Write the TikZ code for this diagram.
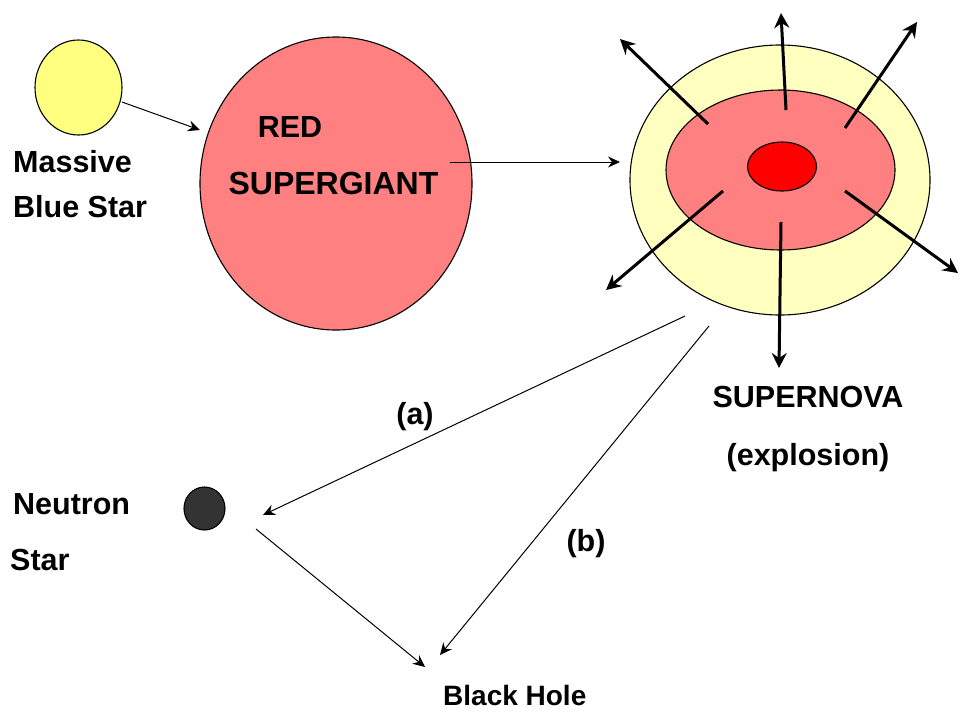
\documentclass[tikz,border=0pt]{standalone}
\usepackage{fontspec}
\setmainfont{Liberation Sans}
\usetikzlibrary{shapes.geometric,arrows.meta}
\definecolor{starYellow}{HTML}{FFFF80}
\definecolor{giantRed}{HTML}{FF8080}
\definecolor{shellYellow}{HTML}{FFFFC0}
\definecolor{coreRed}{HTML}{FF0000}
\definecolor{nsGray}{HTML}{333333}
\tikzset{
  body/.style={ellipse, draw=black, line width=1.1pt, inner sep=0pt},
  lbl/.style={font=\fontsize{30.5}{36}\selectfont\bfseries, inner sep=0pt},
  thinarrow/.style={line width=1pt, -{Stealth[length=12pt,width=11pt,inset=4pt]}},
  blastarrow/.style={line width=3pt, -{Stealth[length=15pt,width=15pt,inset=5pt]}}
}
\begin{document}
\begin{tikzpicture}[x=1pt,y=-1pt]
\useasboundingbox (0,0) rectangle (960,713);
% bodies
\node[body, fill=starYellow, minimum width=87pt, minimum height=95pt] (blue) at (78.5,87.5) {};
\node[body, fill=giantRed, minimum width=272pt, minimum height=293pt] (giant) at (336,183.5) {};
\node[body, fill=shellYellow, minimum width=300pt, minimum height=270pt] (snout) at (780,180) {};
\node[body, fill=giantRed, minimum width=229pt, minimum height=160pt] (snmid) at (780.5,170) {};
\node[body, fill=coreRed, minimum width=69pt, minimum height=49pt] (sncore) at (782,166.5) {};
\node[body, fill=nsGray, minimum width=41pt, minimum height=43pt] (ns) at (204.5,508.5) {};
% labels
\node[lbl, anchor=base west] (tMassive) at (13,172) {Massive};
\node[lbl, anchor=base west] (tBlue) at (13,217) {Blue Star};
\node[lbl, anchor=base] (tRed) at (290,137) {RED};
\node[lbl, anchor=base, font=\fontsize{32}{36}\selectfont\bfseries] (tSuper) at (333.5,194) {SUPERGIANT};
\node[lbl, anchor=base] (tSN) at (808,407) {SUPERNOVA};
\node[lbl, anchor=base] (tExp) at (808,465) {(explosion)};
\node[lbl, anchor=base west] (tNeutron) at (13,514) {Neutron};
\node[lbl, anchor=base west] (tStar) at (10,570) {Star};
\node[lbl, anchor=base] (ta) at (415,424) {(a)};
\node[lbl, anchor=base] (tb) at (586,551) {(b)};
\node[lbl, anchor=base west, font=\fontsize{28}{32}\selectfont\bfseries] (tBH) at (443,705) {Black Hole};
% connector end points
\coordinate (bOut) at (122,102);
\coordinate (gIn) at (200,130);
\coordinate (gOut) at (450,162);
\coordinate (snIn) at (620,162);
\coordinate (aStart) at (685,316);
\coordinate (aEnd) at (263,515);
\coordinate (bStart) at (709,326);
\coordinate (bEnd) at (440,655);
\coordinate (nsOut) at (256,529);
\coordinate (bhIn) at (425,667);
% thin arrows
\draw[thinarrow] (bOut) -- (gIn);
\draw[thinarrow] (gOut) -- (snIn);
\draw[thinarrow] (aStart) -- (aEnd);
\draw[thinarrow] (bStart) -- (bEnd);
\draw[thinarrow] (nsOut) -- (bhIn);
% explosion arrows
\coordinate (e1s) at (708,124); \coordinate (e1t) at (620,39);
\coordinate (e2s) at (786,110); \coordinate (e2t) at (781,13);
\coordinate (e3s) at (845,128); \coordinate (e3t) at (917,22);
\coordinate (e4s) at (723,191); \coordinate (e4t) at (606,290);
\coordinate (e5s) at (781,222); \coordinate (e5t) at (779,368);
\coordinate (e6s) at (845,191); \coordinate (e6t) at (958,273);
\foreach \i in {1,...,6} {\draw[blastarrow] (e\i s) -- (e\i t);}
\end{tikzpicture}
\end{document}
